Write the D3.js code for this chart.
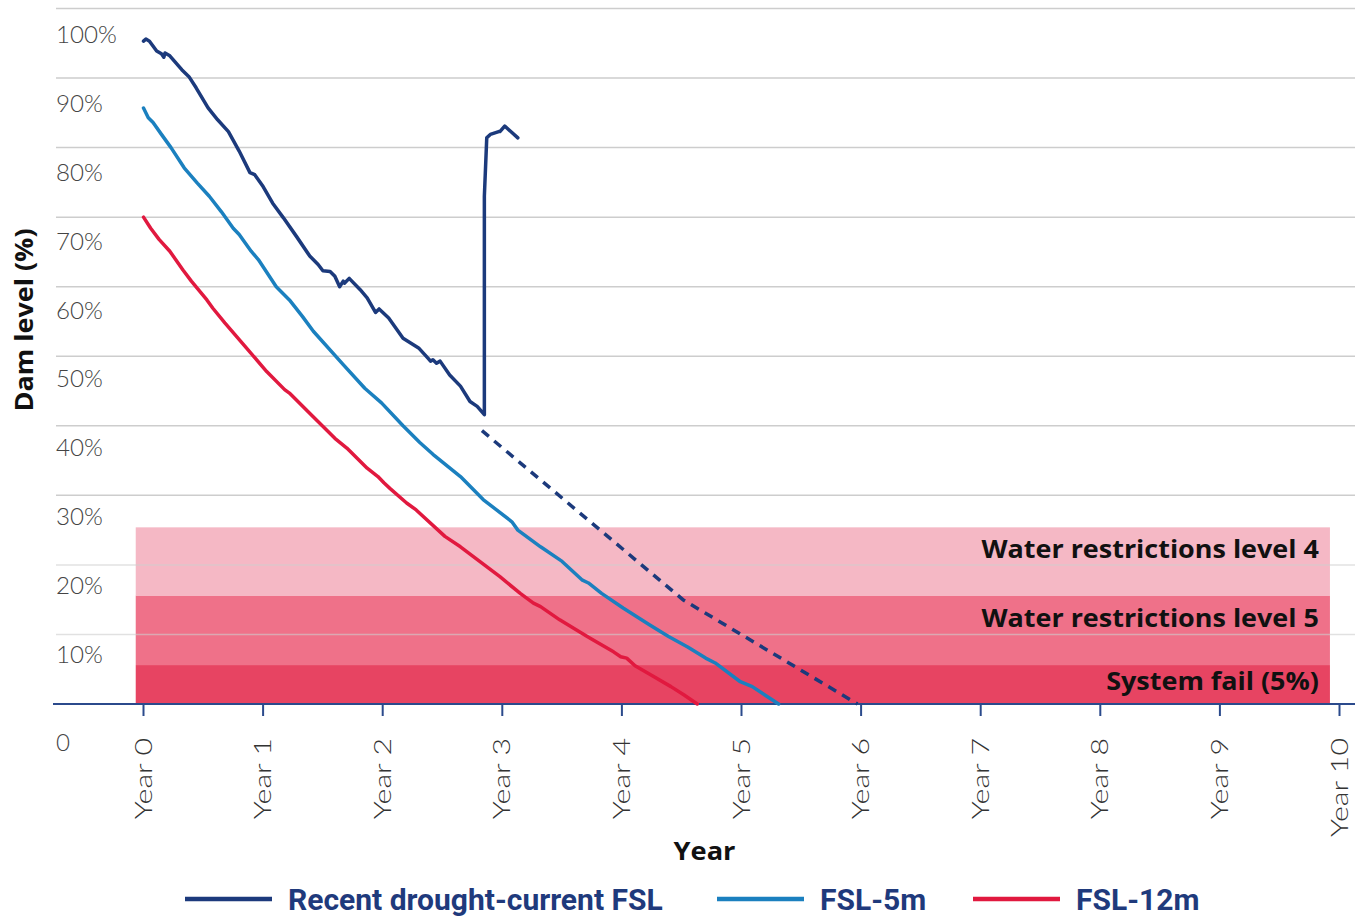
<!DOCTYPE html>
<html>
<head>
<meta charset="utf-8">
<script src="https://cdn.jsdelivr.net/npm/d3@7"></script>
<style>
  body { margin: 0; background: #fff; }
  svg { display: block; }
</style>
</head>
<body>
<svg id="chart" width="1364" height="918"></svg>
<script>
// ---- data ----
var yearLabels = ["Year 0","Year 1","Year 2","Year 3","Year 4","Year 5","Year 6","Year 7","Year 8","Year 9","Year 10"];
var pctTicks = [0,10,20,30,40,50,60,70,80,90,100];

// [year, dam level %]
var recentDrought = [
  [0.00,95.3],[0.02,95.6],[0.05,95.3],[0.11,93.9],[0.15,93.5],[0.17,93.0],[0.18,93.6],[0.22,93.2],
  [0.26,92.4],[0.32,91.2],[0.38,90.2],[0.44,88.6],[0.54,85.7],[0.62,84.0],[0.71,82.3],[0.80,79.5],
  [0.89,76.4],[0.93,76.1],[1.00,74.4],[1.08,72.0],[1.17,69.9],[1.28,67.2],[1.39,64.4],[1.46,63.2],
  [1.50,62.3],[1.56,62.2],[1.60,61.5],[1.64,60.0],[1.67,60.8],[1.68,60.5],[1.72,61.2],[1.81,59.6],
  [1.87,58.4],[1.94,56.3],[1.97,56.8],[2.05,55.5],[2.17,52.6],[2.30,51.2],[2.38,49.7],[2.40,49.3],
  [2.42,49.5],[2.45,49.0],[2.48,49.3],[2.56,47.3],[2.65,45.7],[2.73,43.5],[2.79,42.8],[2.85,41.6],
  [2.85,73.0],[2.87,81.4],[2.90,81.9],[2.97,82.3],[2.98,82.3],[3.02,83.1],[3.13,81.4]
];
var recentProjection = [[2.83,39.3],[4.51,15.0],[5.97,0]];

var fsl5m = [
  [0.00,85.7],[0.04,84.3],[0.08,83.6],[0.15,81.9],[0.23,80.0],[0.34,77.1],[0.45,74.9],[0.55,73.0],
  [0.65,70.8],[0.75,68.4],[0.80,67.5],[0.90,65.1],[0.96,63.9],[1.11,60.0],[1.22,58.1],[1.33,55.7],
  [1.42,53.6],[1.67,48.8],[1.85,45.4],[1.99,43.3],[2.17,40.0],[2.31,37.6],[2.42,35.9],[2.65,32.7],
  [2.84,29.4],[3.08,26.2],[3.13,25.0],[3.32,22.6],[3.50,20.5],[3.67,17.8],[3.72,17.4],[3.83,15.9],
  [4.01,13.8],[4.23,11.4],[4.39,9.7],[4.55,8.2],[4.70,6.6],[4.78,5.9],[4.99,3.2],[5.09,2.5],[5.31,0]
];

var fsl12m = [
  [0.00,70.0],[0.06,68.4],[0.13,66.8],[0.22,65.1],[0.33,62.4],[0.40,60.8],[0.53,58.1],[0.58,56.9],
  [0.68,54.8],[0.86,51.2],[1.03,47.8],[1.18,45.2],[1.22,44.7],[1.36,42.3],[1.60,38.2],[1.70,36.8],
  [1.87,33.9],[1.96,32.7],[2.01,31.8],[2.06,31.0],[2.20,28.9],[2.28,27.9],[2.52,24.1],[2.65,22.6],
  [2.98,18.3],[3.15,15.9],[3.26,14.5],[3.32,14.0],[3.48,12.1],[3.71,9.7],[3.76,9.2],[3.93,7.5],
  [3.99,6.8],[4.04,6.6],[4.11,5.5],[4.24,4.2],[4.41,2.5],[4.52,1.3],[4.63,0]
];

// restriction bands [from %, to %]
var bandNames = ["System fail (5%)","Water restrictions level 5","Water restrictions level 4"];
var bandRanges = [[0,5.6],[5.6,15.6],[15.6,25.4]];
var bandYears = [-0.065, 9.92];

var seriesNames = ["Recent drought-current FSL","FSL-5m","FSL-12m"];

// ---- drawing ----
var colors = { navy: "#1c3a7c", blue: "#1b80bf", red: "#e1193f", axis: "#2b4a8c", grid: "#cdcdcd" };
var bandColors = ["#e74462", "#ef7189", "#f5b8c5"];
var boldFont = "'Open Sans', Lato, sans-serif";
var lightFont = "Lato, 'Open Sans', sans-serif";

var svg = d3.select("#chart");
var x = d3.scaleLinear().domain([0,10]).range([143.5,1339.5]);
var y = d3.scaleLinear().domain([0,100]).range([704,8.5]);
var plotLeft = 54, plotRight = 1355;

// bands
svg.append("g").selectAll("rect")
  .data(bandRanges)
  .enter().append("rect")
  .attr("x", x(bandYears[0]))
  .attr("width", x(bandYears[1]) - x(bandYears[0]))
  .attr("y", function(d){ return y(d[1]); })
  .attr("height", function(d){ return y(d[0]) - y(d[1]); })
  .attr("fill", function(d,i){ return bandColors[i]; });

// gridlines
svg.append("g").selectAll("line")
  .data(pctTicks.filter(function(d){ return d > 0; }))
  .enter().append("line")
  .attr("x1", plotLeft + 2).attr("x2", plotRight)
  .attr("y1", function(d){ return y(d); }).attr("y2", function(d){ return y(d); })
  .attr("stroke", colors.grid).attr("stroke-width", 1.5)
  .attr("stroke-opacity", function(d){ return d <= 25 ? 0.6 : 1; });

// band labels
svg.append("g").selectAll("text")
  .data(bandRanges)
  .enter().append("text")
  .attr("transform", function(d,i){
    var ty = i === 0 ? y(d[0]) - 14 : y(d[1]) + 31;
    return "translate(" + (x(bandYears[1]) - 11) + "," + ty + ") scale(1.1,1)";
  })
  .attr("text-anchor", "end")
  .attr("font-family", boldFont)
  .attr("font-weight", 700)
  .attr("font-size", 24.5)
  .attr("fill", "#111")
  .text(function(d,i){ return bandNames[i]; });

// y tick labels (drawn below each gridline as in the original)
var labelY = d3.scaleLinear().domain([10,100]).range([663,43]);
svg.append("g").selectAll("text")
  .data(pctTicks)
  .enter().append("text")
  .attr("transform", function(d){ return "translate(56," + (d === 0 ? 751 : labelY(d)) + ") scale(1.05,1)"; })
  .attr("font-family", lightFont)
  .attr("font-weight", 300)
  .attr("font-size", 23)
  .attr("fill", "#444")
  .text(function(d){ return d === 0 ? "0" : d + "%"; });

// x axis
var xAxis = svg.append("g").attr("transform", "translate(0," + y(0) + ")");
xAxis.append("line")
  .attr("x1", plotLeft - 1).attr("x2", plotRight)
  .attr("stroke", colors.axis).attr("stroke-width", 2);
xAxis.selectAll(".tick")
  .data(yearLabels)
  .enter().append("line")
  .attr("x1", function(d,i){ return x(i); }).attr("x2", function(d,i){ return x(i); })
  .attr("y1", 0).attr("y2", 12)
  .attr("stroke", colors.axis).attr("stroke-width", 2);
xAxis.selectAll(".lbl")
  .data(yearLabels)
  .enter().append("text")
  .attr("transform", function(d,i){ return "translate(" + (x(i) + 8) + ",34) rotate(-90) scale(1.32,1)"; })
  .attr("text-anchor", "end")
  .attr("font-family", lightFont)
  .attr("font-weight", 300)
  .attr("font-size", 23)
  .attr("fill", "#333")
  .text(function(d){ return d; });

// axis titles
svg.append("text")
  .attr("transform", "translate(" + ((plotLeft + plotRight) / 2) + ",860) scale(1.09,1)")
  .attr("text-anchor", "middle")
  .attr("font-family", boldFont)
  .attr("font-weight", 700).attr("font-size", 25)
  .attr("fill", "#111")
  .text("Year");
svg.append("text")
  .attr("transform", "translate(33,320) rotate(-90) scale(1.08,1)")
  .attr("text-anchor", "middle")
  .attr("font-family", boldFont)
  .attr("font-weight", 700).attr("font-size", 25)
  .attr("fill", "#111")
  .text("Dam level (%)");

// series lines
var line = d3.line()
  .x(function(d){ return x(d[0]); })
  .y(function(d){ return y(d[1]); });

function drawLine(data, color, dash){
  svg.append("path")
    .datum(data)
    .attr("d", line)
    .attr("fill", "none")
    .attr("stroke", color)
    .attr("stroke-width", 3.5)
    .attr("stroke-linejoin", "round")
    .attr("stroke-linecap", dash ? "butt" : "round")
    .attr("stroke-dasharray", dash || null);
}
drawLine(fsl12m, colors.red);
drawLine(fsl5m, colors.blue);
drawLine(recentProjection, colors.navy, "9,7");
drawLine(recentDrought, colors.navy);

// legend
var legendColors = [colors.navy, colors.blue, colors.red];
var legendX = [185, 717, 973];
var legend = svg.append("g").attr("transform", "translate(0,899)");
legendX.forEach(function(lx, i){
  legend.append("line")
    .attr("x1", lx).attr("x2", lx + 87)
    .attr("stroke", legendColors[i]).attr("stroke-width", 4.5);
  legend.append("text")
    .attr("x", lx + 103).attr("y", 11)
    .attr("font-family", "Roboto, 'Liberation Sans', sans-serif")
    .attr("font-weight", 700).attr("font-size", 30)
    .attr("fill", "#1f3a7c")
    .text(seriesNames[i]);
});
</script>
</body>
</html>
